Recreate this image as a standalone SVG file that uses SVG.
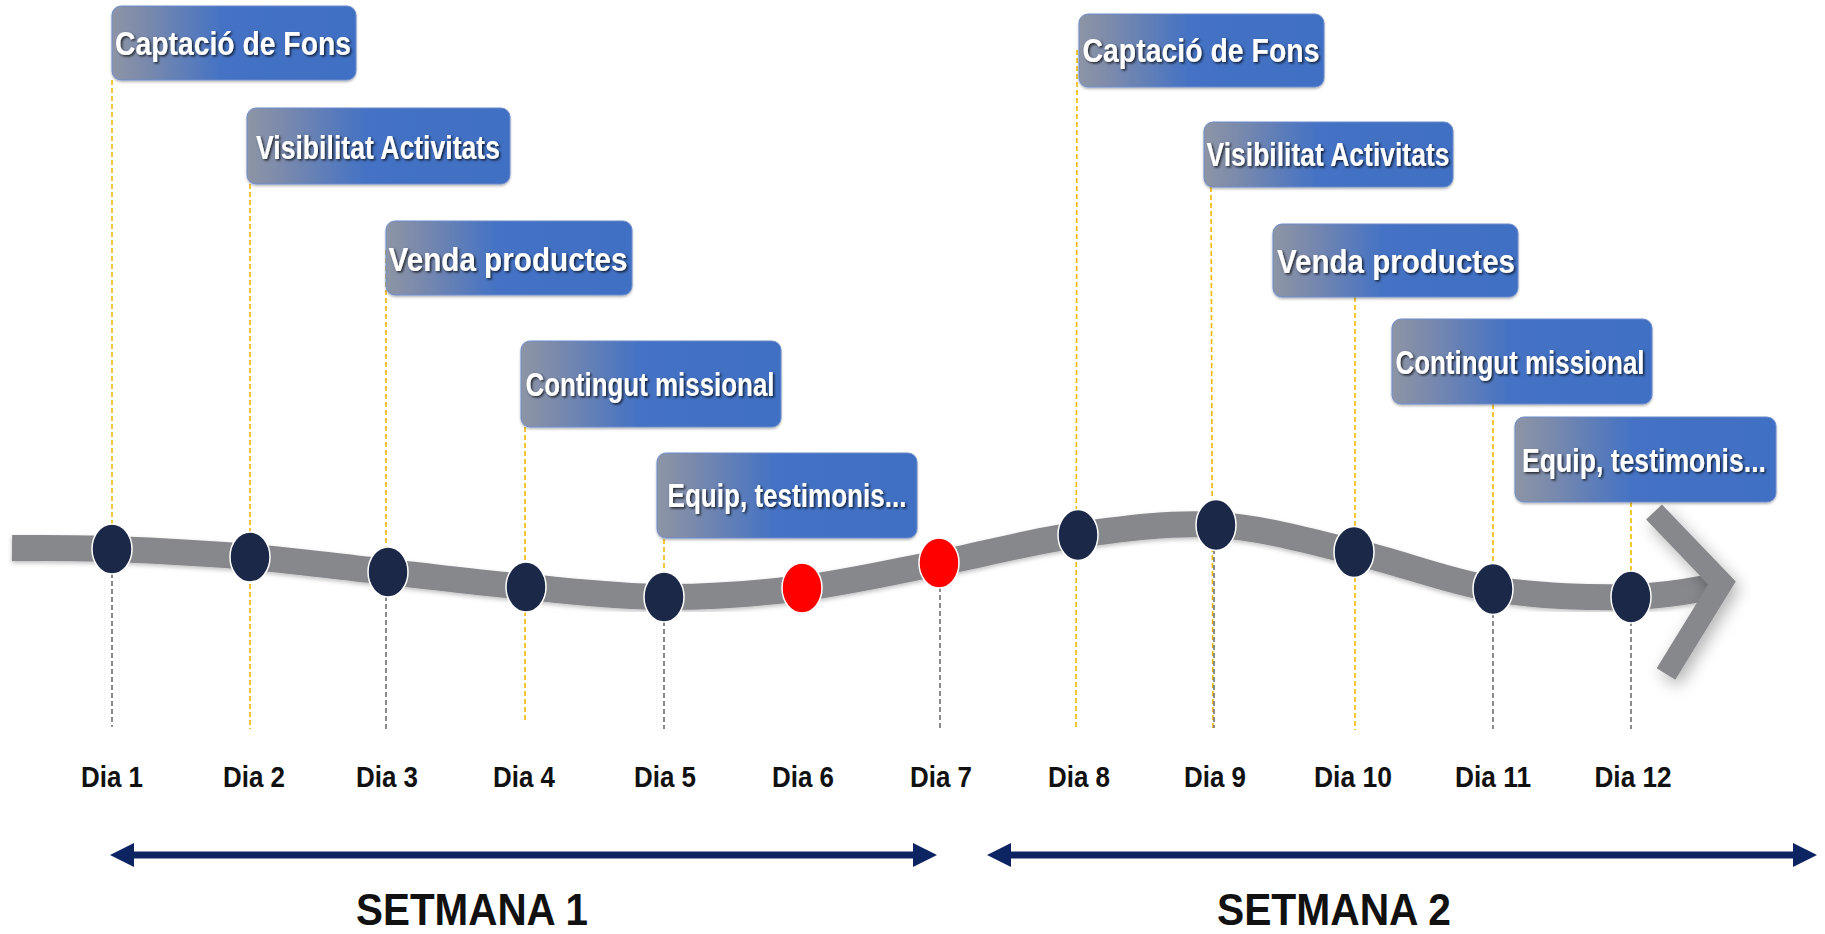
<svg xmlns="http://www.w3.org/2000/svg" width="1825" height="934" viewBox="0 0 1825 934">
<defs>
<linearGradient id="boxGrad" x1="0" y1="0" x2="1" y2="0">
<stop offset="0" stop-color="#8d95a5"/>
<stop offset="0.12" stop-color="#7d8bab"/>
<stop offset="0.45" stop-color="#4472c4"/>
<stop offset="1" stop-color="#4170c4"/>
</linearGradient>
<filter id="txtShadow" x="-5%" y="-20%" width="110%" height="150%">
<feDropShadow dx="1.5" dy="1.5" stdDeviation="0.8" flood-color="#000" flood-opacity="0.75"/>
</filter>
<filter id="boxShadow" x="-5%" y="-10%" width="110%" height="130%">
<feDropShadow dx="0" dy="1.5" stdDeviation="1.2" flood-color="#000" flood-opacity="0.3"/>
</filter>
<filter id="chevShadow" x="-40%" y="-20%" width="180%" height="140%">
<feDropShadow dx="4" dy="6" stdDeviation="8" flood-color="#000" flood-opacity="0.3"/>
</filter>
<filter id="bandShadow" x="-2%" y="-20%" width="104%" height="140%">
<feDropShadow dx="0" dy="2" stdDeviation="2" flood-color="#000" flood-opacity="0.25"/>
</filter>
<marker id="navyHead" viewBox="0 0 24 24" refX="2" refY="12" markerWidth="24" markerHeight="24" markerUnits="userSpaceOnUse" orient="auto-start-reverse">
<path d="M0,0 L24,12 L0,24 Z" fill="#0c2461"/>
</marker>
</defs>
<style>
.box{fill:url(#boxGrad);stroke:#6d8ccc;stroke-width:1;filter:url(#boxShadow)}
.btxt{font-family:"Liberation Sans","Open Sans",Arial,sans-serif;font-weight:bold;font-size:33px;fill:#ffffff;text-anchor:middle;filter:url(#txtShadow)}
.day{font-family:"Liberation Sans",Arial,sans-serif;font-weight:bold;font-size:29px;fill:#111111;text-anchor:middle}
.week{font-family:"Liberation Sans",Arial,sans-serif;font-weight:bold;font-size:44px;fill:#111111;text-anchor:middle}
.dy{stroke:#f2b705;stroke-width:1.6;stroke-dasharray:5 3;fill:none}
.dg{stroke:#707070;stroke-width:1.6;stroke-dasharray:5 3;fill:none}
.dot{fill:#1b2848;stroke:#ffffff;stroke-width:1.5}
.red{fill:#ff0000;stroke:#ffffff;stroke-width:1.5}
.span{stroke:#0c2461;stroke-width:7;fill:none;marker-start:url(#navyHead);marker-end:url(#navyHead)}
</style>
<rect width="1825" height="934" fill="#ffffff"/>

<g id="connectors">
<line class="dy" x1="112" y1="80" x2="112" y2="549"/>
<line class="dg" x1="112" y1="549" x2="112" y2="727"/>
<line class="dy" x1="250" y1="184" x2="250" y2="729"/>
<line class="dy" x1="386" y1="250" x2="386" y2="572"/>
<line class="dg" x1="386" y1="572" x2="386" y2="729"/>
<line class="dy" x1="525" y1="427" x2="525" y2="720"/>
<line class="dy" x1="664" y1="539" x2="664" y2="597"/>
<line class="dg" x1="664" y1="597" x2="664" y2="729"/>
<line class="dg" x1="940" y1="563" x2="940" y2="729"/>
<line class="dy" x1="1077" y1="50" x2="1076" y2="727"/>
<line class="dy" x1="1211" y1="187" x2="1213" y2="728"/>
<line class="dg" x1="1214" y1="525" x2="1214" y2="728"/>
<line class="dy" x1="1355" y1="297" x2="1355" y2="730"/>
<line class="dy" x1="1493" y1="404" x2="1493" y2="589"/>
<line class="dg" x1="1493" y1="589" x2="1493" y2="729"/>
<line class="dy" x1="1631" y1="502" x2="1631" y2="597"/>
<line class="dg" x1="1631" y1="597" x2="1631" y2="729"/>
<path d="M12,548 C28.7,548.2 72.3,547.5 112,549 C151.7,550.5 204,553.2 250,557 C296,560.8 342,567 388,572 C434,577 480,582.8 526,587 C572,591.2 617.8,596.8 664,597 C710.2,597.2 757.2,593.7 803,588 C848.8,582.3 893.3,571.8 939,563 C984.7,554.2 1030.7,541.3 1077,535 C1123.3,528.7 1170.7,522.2 1217,525 C1263.3,527.8 1309,541.3 1355,552 C1401,562.7 1446.8,581.5 1493,589 C1539.2,596.5 1593.8,598.2 1632,597 C1670.2,595.8 1695,590 1712,587" fill="none" stroke="#87888c" stroke-width="26" filter="url(#bandShadow)"/>
<polyline points="1654,512 1722,583 1666,674" fill="none" stroke="#87888c" stroke-width="22" stroke-linejoin="miter" stroke-miterlimit="10" filter="url(#chevShadow)"/>
<line class="span" x1="132" y1="855" x2="915" y2="855"/>
<line class="span" x1="1009" y1="855" x2="1795" y2="855"/>
</g>

<g id="dots">
<ellipse id="dot1" class="dot" cx="112" cy="549" rx="20" ry="25"/>
<ellipse id="dot2" class="dot" cx="250" cy="557" rx="20" ry="25"/>
<ellipse id="dot3" class="dot" cx="388" cy="572" rx="20" ry="25"/>
<ellipse id="dot4" class="dot" cx="526" cy="587" rx="20" ry="25"/>
<ellipse id="dot5" class="dot" cx="664" cy="597" rx="20" ry="25"/>
<ellipse id="dot6" class="red" cx="802" cy="588" rx="20" ry="25"/>
<ellipse id="dot7" class="red" cx="939" cy="563" rx="20" ry="25"/>
<ellipse id="dot8" class="dot" cx="1078" cy="535" rx="20" ry="25.5"/>
<ellipse id="dot9" class="dot" cx="1216" cy="525" rx="20" ry="25.5"/>
<ellipse id="dot10" class="dot" cx="1354" cy="552" rx="20" ry="25.5"/>
<ellipse id="dot11" class="dot" cx="1493" cy="589" rx="20" ry="25.5"/>
<ellipse id="dot12" class="dot" cx="1631" cy="597" rx="20" ry="26"/>
</g>

<g id="box1"><rect class="box" x="112" y="6" width="244" height="74" rx="9"/><text class="btxt" x="233" y="55" textLength="236" lengthAdjust="spacingAndGlyphs">Captació de Fons</text></g>
<g id="box2"><rect class="box" x="247" y="108" width="263" height="76" rx="9"/><text class="btxt" x="378" y="159" textLength="244" lengthAdjust="spacingAndGlyphs">Visibilitat Activitats</text></g>
<g id="box3"><rect class="box" x="386" y="221" width="246" height="74" rx="9"/><text class="btxt" x="508" y="271" textLength="239" lengthAdjust="spacingAndGlyphs">Venda productes</text></g>
<g id="box4"><rect class="box" x="521" y="341" width="260" height="86" rx="9"/><text class="btxt" x="650" y="396" textLength="249" lengthAdjust="spacingAndGlyphs">Contingut missional</text></g>
<g id="box5"><rect class="box" x="657" y="453" width="260" height="85" rx="9"/><text class="btxt" x="787" y="507" textLength="239" lengthAdjust="spacingAndGlyphs">Equip, testimonis...</text></g>
<g id="box6"><rect class="box" x="1079" y="14" width="245" height="73" rx="9"/><text class="btxt" x="1201" y="62" textLength="237" lengthAdjust="spacingAndGlyphs">Captació de Fons</text></g>
<g id="box7"><rect class="box" x="1204" y="122" width="249" height="65" rx="9"/><text class="btxt" x="1328" y="166" textLength="243" lengthAdjust="spacingAndGlyphs">Visibilitat Activitats</text></g>
<g id="box8"><rect class="box" x="1273" y="224" width="245" height="73" rx="9"/><text class="btxt" x="1396" y="273" textLength="238" lengthAdjust="spacingAndGlyphs">Venda productes</text></g>
<g id="box9"><rect class="box" x="1392" y="319" width="260" height="85" rx="9"/><text class="btxt" x="1520" y="374" textLength="249" lengthAdjust="spacingAndGlyphs">Contingut missional</text></g>
<g id="box10"><rect class="box" x="1515" y="417" width="261" height="85" rx="9"/><text class="btxt" x="1644" y="472" textLength="244" lengthAdjust="spacingAndGlyphs">Equip, testimonis...</text></g>

<g id="days">
<text class="day" x="112" y="787" textLength="62" lengthAdjust="spacingAndGlyphs">Dia 1</text>
<text class="day" x="254" y="787" textLength="62" lengthAdjust="spacingAndGlyphs">Dia 2</text>
<text class="day" x="387" y="787" textLength="62" lengthAdjust="spacingAndGlyphs">Dia 3</text>
<text class="day" x="524" y="787" textLength="62" lengthAdjust="spacingAndGlyphs">Dia 4</text>
<text class="day" x="665" y="787" textLength="62" lengthAdjust="spacingAndGlyphs">Dia 5</text>
<text class="day" x="803" y="787" textLength="62" lengthAdjust="spacingAndGlyphs">Dia 6</text>
<text class="day" x="941" y="787" textLength="62" lengthAdjust="spacingAndGlyphs">Dia 7</text>
<text class="day" x="1079" y="787" textLength="62" lengthAdjust="spacingAndGlyphs">Dia 8</text>
<text class="day" x="1215" y="787" textLength="62" lengthAdjust="spacingAndGlyphs">Dia 9</text>
<text class="day" x="1353" y="787" textLength="78" lengthAdjust="spacingAndGlyphs">Dia 10</text>
<text class="day" x="1493" y="787" textLength="76" lengthAdjust="spacingAndGlyphs">Dia 11</text>
<text class="day" x="1633" y="787" textLength="77" lengthAdjust="spacingAndGlyphs">Dia 12</text>
</g>

<g id="weeks">
<text class="week" x="472" y="925" textLength="232" lengthAdjust="spacingAndGlyphs">SETMANA 1</text>
<text class="week" x="1334" y="925" textLength="234" lengthAdjust="spacingAndGlyphs">SETMANA 2</text>
</g>
</svg>
